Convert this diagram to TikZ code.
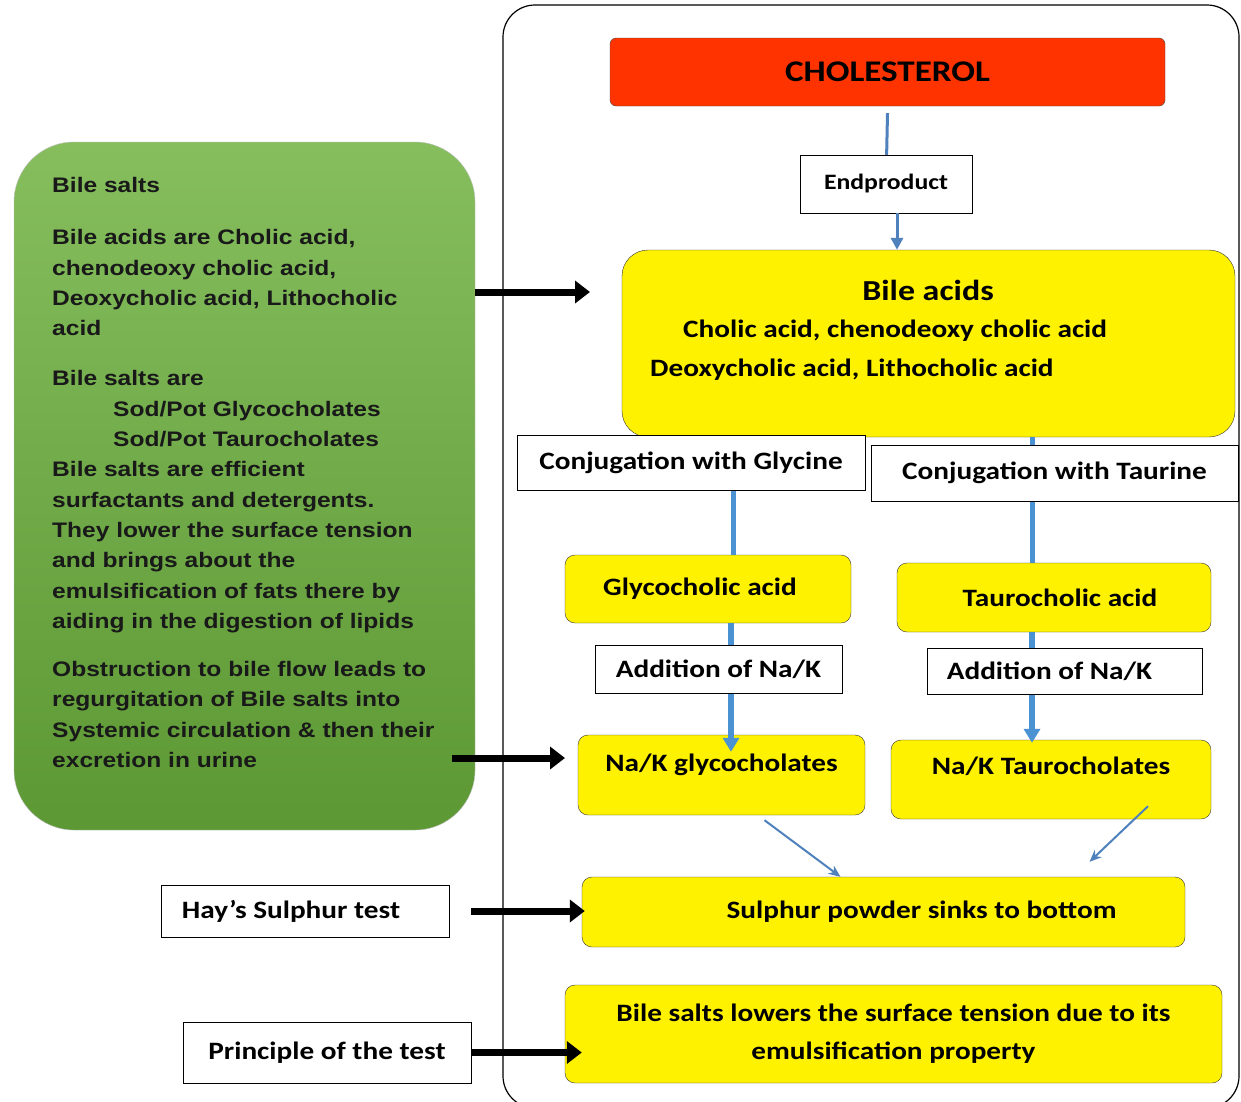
\documentclass[tikz,border=0pt]{standalone}
\usepackage{fontspec}
\setmainfont[FakeStretch=1.17]{Carlito}
\newfontfamily\notefont[FakeStretch=1.17]{Liberation Sans}
\usetikzlibrary{arrows.meta, positioning}
\definecolor{flowblue}{RGB}{79,129,189}
\definecolor{lineblue}{RGB}{74,146,210}
\definecolor{cholred}{RGB}{255,51,0}
\definecolor{greentop}{RGB}{134,190,94}
\definecolor{greenbot}{RGB}{92,152,52}
\tikzstyle{yellowbox} = [draw=black!80, fill=yellow, rounded corners=10pt, inner sep=0pt, font=\bfseries\fontsize{25}{38}\selectfont]
\tikzstyle{whitebox} = [draw=black, fill=white, inner sep=0pt, font=\bfseries\fontsize{25}{30}\selectfont]
\tikzstyle{fatarrow} = [line width=7pt, -{Triangle[length=15pt,width=22pt]}]
\tikzstyle{bluepipe} = [lineblue, line width=5pt]
\tikzstyle{bluearrow} = [lineblue, line width=6pt, -{Triangle[length=14pt,width=16pt]}]
\tikzstyle{thinarrow} = [flowblue, line width=2pt, -{Stealth[length=12pt,width=10pt]}]

\begin{document}
\begin{tikzpicture}[x=1pt, y=-1pt]
    \useasboundingbox (0,0) rectangle (1241,1101);
    \fill[white] (0,0) rectangle (1241,1101);
    \draw[line width=1.2pt, rounded corners=32pt] (503,5) rectangle (1239,1108);

    % left note
    \node[draw=black!25, top color=greentop, bottom color=greenbot, rounded corners=60pt,
          minimum width=461pt, minimum height=688pt] (green) at (244.5,486) {};
    \node[anchor=north west, inner sep=0pt, align=left, text=black!90,
          font=\notefont\bfseries\fontsize{21}{30.3}\selectfont] (notes) at (52,177) {Bile salts\\[22pt]
        Bile acids are Cholic acid,\\
        chenodeoxy cholic acid,\\
        Deoxycholic acid, Lithocholic\\
        acid\\[20pt]
        Bile salts are\\
        \hspace*{61pt}Sod/Pot Glycocholates\\
        \hspace*{61pt}Sod/Pot Taurocholates\\
        Bile salts are efficient\\
        surfactants and detergents.\\
        They lower the surface tension\\
        and brings about the\\
        emulsification of fats there by\\
        aiding in the digestion of lipids\\[18pt]
        Obstruction to bile flow leads to\\
        regurgitation of Bile salts into\\
        Systemic circulation \& then their\\
        excretion in urine};

    \node[draw=black!70, fill=cholred, rounded corners=6pt, minimum width=555pt, minimum height=68pt,
          font=\bfseries\fontsize{30}{34}\selectfont] (chol) at (887.5,72) {CHOLESTEROL};
    \node[whitebox, minimum width=172pt, minimum height=58pt, font=\bfseries\fontsize{22}{26}\selectfont] (endp) at (886,184) {Endproduct};
    \node[yellowbox, rounded corners=26pt, minimum width=613pt, minimum height=187pt] (bileacids) at (928.5,343.5) {};
    \node[font=\bfseries\fontsize{29}{32}\selectfont] (ba0) at (928,290) {Bile acids};
    \node[anchor=west, inner sep=0pt, font=\bfseries\fontsize{25}{30}\selectfont] (ba1) at (683,331) {Cholic acid, chenodeoxy cholic acid};
    \node[anchor=west, inner sep=0pt, font=\bfseries\fontsize{25}{30}\selectfont] (ba2) at (650,370) {Deoxycholic acid, Lithocholic acid};

    \node[yellowbox, minimum width=286pt, minimum height=68pt] (glycoacid) at (708,589) {Glycocholic acid\hspace*{16pt}};
    \node[yellowbox, minimum width=314pt, minimum height=69pt] (tauroacid) at (1054,597.5) {\hspace*{12pt}Taurocholic acid};
    \node[yellowbox, minimum width=287pt, minimum height=80pt, text depth=24pt] (glycolates) at (721.5,775) {Na/K glycocholates};
    \node[yellowbox, minimum width=320pt, minimum height=79pt, text depth=27pt] (taurolates) at (1051,779.5) {Na/K Taurocholates};
    \node[yellowbox, minimum width=603pt, minimum height=70pt] (sulphur) at (883.5,912) {\hspace*{76pt}Sulphur powder sinks to bottom};
    \node[yellowbox, minimum width=657pt, minimum height=98pt, align=center] (lowers) at (893.5,1034) {Bile salts lowers the surface tension due to its\\emulsification property};

    \draw[flowblue, line width=3pt] ([yshift=-7pt]chol.south) -- (endp);
    \draw[flowblue, line width=3pt, -{Triangle[length=12pt,width=12pt]}] ([xshift=11pt]endp.south) -- ([xshift=11pt]endp.south |- bileacids.north);
    \draw[bluepipe] ([xshift=25pt]glycoacid.north) -- ([xshift=25pt]glycoacid.north |- bileacids.south);
    \draw[bluepipe] ([xshift=-22pt]tauroacid.north) -- ([xshift=-22pt]tauroacid.north |- bileacids.south);
    \draw[bluearrow] ([xshift=23pt]glycoacid.south) -- ([xshift=23pt,yshift=-17pt]glycoacid.south |- glycolates.north);
    \draw[bluearrow] ([xshift=-22pt]tauroacid.south) -- ([xshift=-22pt,yshift=-3pt]tauroacid.south |- taurolates.north);

    \node[whitebox, minimum width=348pt, minimum height=55pt] (glyconj) at (691,462.5) {Conjugation with Glycine};
    \node[whitebox, minimum width=367pt, minimum height=56pt] (tauconj) at (1054.5,473) {Conjugation with Taurine};
    \node[whitebox, minimum width=247pt, minimum height=48pt] (addl) at (718.5,669) {Addition of Na/K};
    \node[whitebox, minimum width=275pt, minimum height=46pt] (addr) at (1064.5,671) {Addition of Na/K\hspace*{30pt}};

    \draw[thinarrow] ([shift={(43pt,-5pt)}]glycolates.south) -- ([xshift=-43pt]sulphur.north);
    \draw[thinarrow] ([shift={(97pt,13pt)}]taurolates.south) -- ([shift={(206pt,15pt)}]sulphur.north);

    \node[whitebox, minimum width=288pt, minimum height=52pt] (hays) at (305,911) {Hay's Sulphur test\hspace*{28pt}};
    \node[whitebox, minimum width=288pt, minimum height=61pt] (princ) at (327,1052.5) {Principle of the test};

    \coordinate (a1) at (590,292);
    \coordinate (a2) at (565,758);
    \draw[fatarrow] (a1 -| green.east) -- (a1);
    \draw[fatarrow] ([xshift=-23pt]a2 -| green.east) -- (a2);
    \draw[fatarrow] ([xshift=22pt]hays.east) -- ([xshift=3pt]sulphur.west |- hays.east);
    \draw[fatarrow] (princ.east) -- ([xshift=17pt]lowers.west |- princ.east);
\end{tikzpicture}
\end{document}
